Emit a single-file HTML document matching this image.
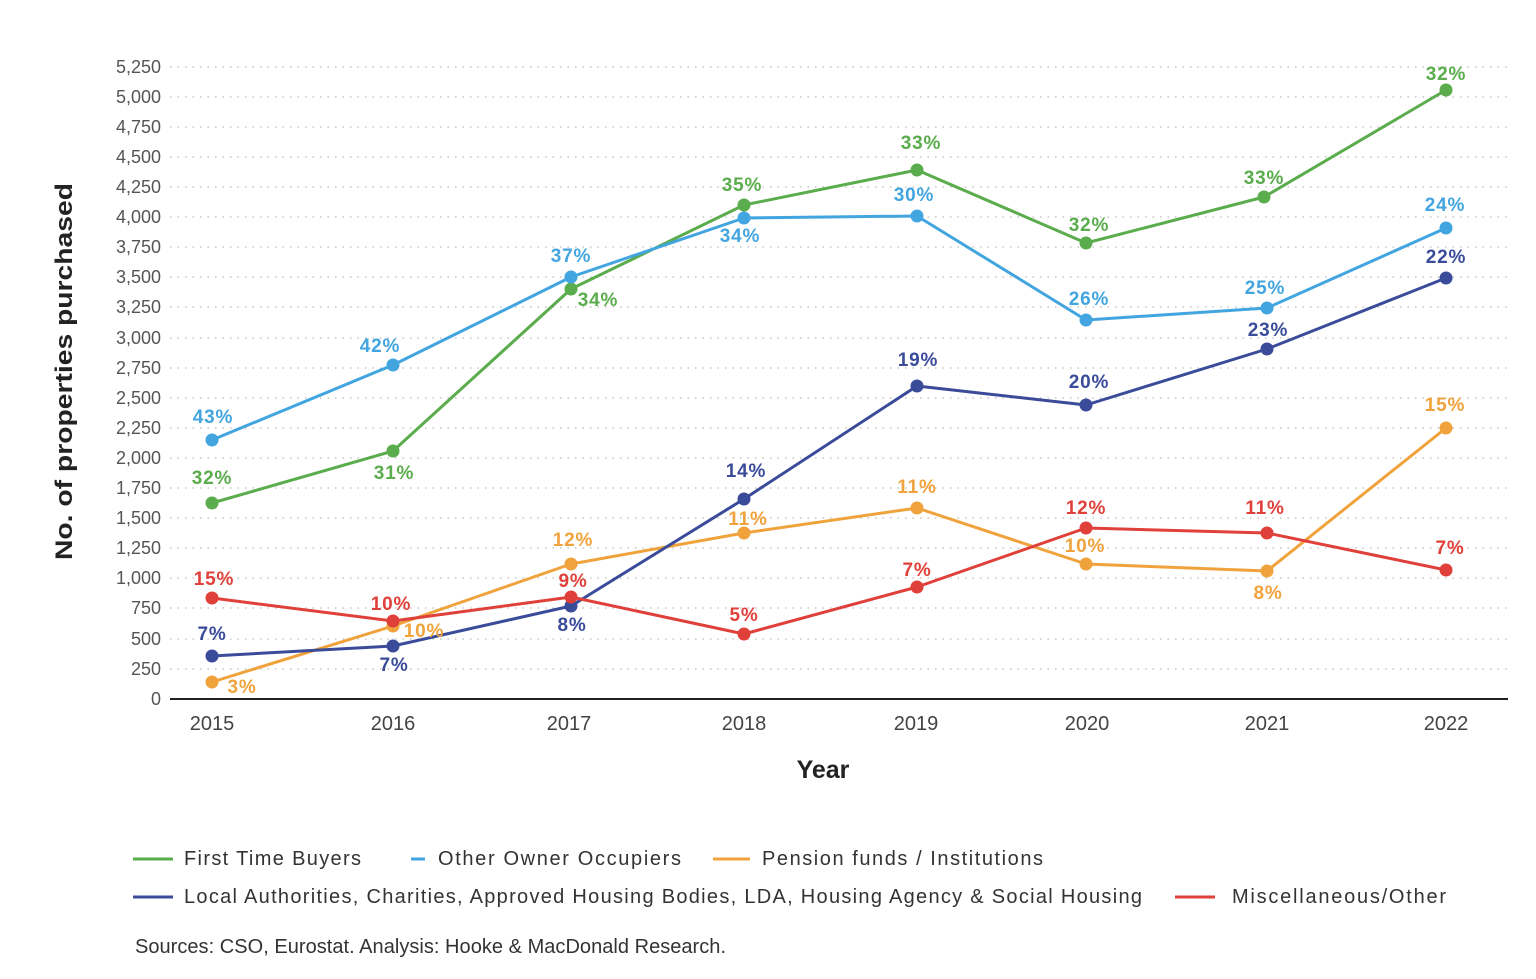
<!DOCTYPE html>
<html><head><meta charset="utf-8"><style>
body{margin:0;background:#fff;}
svg text{font-family:"Liberation Sans",sans-serif;}
</style></head><body>
<svg width="1536" height="974" viewBox="0 0 1536 974" xmlns="http://www.w3.org/2000/svg">
<g stroke="#bbb" stroke-width="1.2" stroke-dasharray="1.5 6">
<line x1="170" x2="1508" y1="67" y2="67"/><line x1="170" x2="1508" y1="97" y2="97"/><line x1="170" x2="1508" y1="127" y2="127"/><line x1="170" x2="1508" y1="157" y2="157"/><line x1="170" x2="1508" y1="187" y2="187"/><line x1="170" x2="1508" y1="217" y2="217"/><line x1="170" x2="1508" y1="247" y2="247"/><line x1="170" x2="1508" y1="277" y2="277"/><line x1="170" x2="1508" y1="307" y2="307"/><line x1="170" x2="1508" y1="338" y2="338"/><line x1="170" x2="1508" y1="368" y2="368"/><line x1="170" x2="1508" y1="398" y2="398"/><line x1="170" x2="1508" y1="428" y2="428"/><line x1="170" x2="1508" y1="458" y2="458"/><line x1="170" x2="1508" y1="488" y2="488"/><line x1="170" x2="1508" y1="518" y2="518"/><line x1="170" x2="1508" y1="548" y2="548"/><line x1="170" x2="1508" y1="578" y2="578"/><line x1="170" x2="1508" y1="608" y2="608"/><line x1="170" x2="1508" y1="639" y2="639"/><line x1="170" x2="1508" y1="669" y2="669"/>
</g>
<line x1="170" x2="1508" y1="699" y2="699" stroke="#222" stroke-width="2"/>
<g font-size="18" fill="#555" text-anchor="end">
<text x="161" y="73">5,250</text><text x="161" y="103">5,000</text><text x="161" y="133">4,750</text><text x="161" y="163">4,500</text><text x="161" y="193">4,250</text><text x="161" y="223">4,000</text><text x="161" y="253">3,750</text><text x="161" y="283">3,500</text><text x="161" y="313">3,250</text><text x="161" y="344">3,000</text><text x="161" y="374">2,750</text><text x="161" y="404">2,500</text><text x="161" y="434">2,250</text><text x="161" y="464">2,000</text><text x="161" y="494">1,750</text><text x="161" y="524">1,500</text><text x="161" y="554">1,250</text><text x="161" y="584">1,000</text><text x="161" y="614">750</text><text x="161" y="645">500</text><text x="161" y="675">250</text><text x="161" y="705">0</text>
</g>
<g font-size="20" fill="#444" text-anchor="middle">
<text x="212" y="730">2015</text><text x="393" y="730">2016</text><text x="569" y="730">2017</text><text x="744" y="730">2018</text><text x="916" y="730">2019</text><text x="1087" y="730">2020</text><text x="1267" y="730">2021</text><text x="1446" y="730">2022</text>
</g>
<text x="823" y="778" font-size="25" font-weight="bold" text-anchor="middle" fill="#222">Year</text>
<text transform="translate(72,560) rotate(-90)" font-size="24" font-weight="bold" fill="#222" textLength="377" lengthAdjust="spacingAndGlyphs">No. of properties purchased</text>
<g fill="none" stroke-width="3" stroke-linejoin="round">
<polyline stroke="#5aac4c" points="212,503 393,451 571,289 744,205 917,170 1086,243 1264,197 1446,90"/>
<polyline stroke="#42a5e0" points="212,440 393,365 571,277 744,218 917,216 1086,320 1267,308 1446,228"/>
<polyline stroke="#f0a33c" points="212,682 393,626 571,564 744,533 917,508 1086,564 1267,571 1446,428"/>
<polyline stroke="#3a4b9a" points="212,656 393,646 571,606 744,499 917,386 1086,405 1267,349 1446,278"/>
<polyline stroke="#e0403a" points="212,598 393,621 571,597 744,634 917,587 1086,528 1267,533 1446,570"/>
</g>
<g fill="#5aac4c"><circle cx="212" cy="503" r="6.5"/><circle cx="393" cy="451" r="6.5"/><circle cx="571" cy="289" r="6.5"/><circle cx="744" cy="205" r="6.5"/><circle cx="917" cy="170" r="6.5"/><circle cx="1086" cy="243" r="6.5"/><circle cx="1264" cy="197" r="6.5"/><circle cx="1446" cy="90" r="6.5"/></g>
<g fill="#42a5e0"><circle cx="212" cy="440" r="6.5"/><circle cx="393" cy="365" r="6.5"/><circle cx="571" cy="277" r="6.5"/><circle cx="744" cy="218" r="6.5"/><circle cx="917" cy="216" r="6.5"/><circle cx="1086" cy="320" r="6.5"/><circle cx="1267" cy="308" r="6.5"/><circle cx="1446" cy="228" r="6.5"/></g>
<g fill="#f0a33c"><circle cx="212" cy="682" r="6.5"/><circle cx="393" cy="626" r="6.5"/><circle cx="571" cy="564" r="6.5"/><circle cx="744" cy="533" r="6.5"/><circle cx="917" cy="508" r="6.5"/><circle cx="1086" cy="564" r="6.5"/><circle cx="1267" cy="571" r="6.5"/><circle cx="1446" cy="428" r="6.5"/></g>
<g fill="#3a4b9a"><circle cx="212" cy="656" r="6.5"/><circle cx="393" cy="646" r="6.5"/><circle cx="571" cy="606" r="6.5"/><circle cx="744" cy="499" r="6.5"/><circle cx="917" cy="386" r="6.5"/><circle cx="1086" cy="405" r="6.5"/><circle cx="1267" cy="349" r="6.5"/><circle cx="1446" cy="278" r="6.5"/></g>
<g fill="#e0403a"><circle cx="212" cy="598" r="6.5"/><circle cx="393" cy="621" r="6.5"/><circle cx="571" cy="597" r="6.5"/><circle cx="744" cy="634" r="6.5"/><circle cx="917" cy="587" r="6.5"/><circle cx="1086" cy="528" r="6.5"/><circle cx="1267" cy="533" r="6.5"/><circle cx="1446" cy="570" r="6.5"/></g>
<g font-size="19" font-weight="bold" text-anchor="middle" letter-spacing="0.8">
<g fill="#5aac4c"><text x="212" y="484">32%</text><text x="394" y="479">31%</text><text x="598" y="306">34%</text><text x="742" y="191">35%</text><text x="921" y="149">33%</text><text x="1089" y="231">32%</text><text x="1264" y="184">33%</text><text x="1446" y="80">32%</text></g>
<g fill="#42a5e0"><text x="213" y="423">43%</text><text x="380" y="352">42%</text><text x="571" y="262">37%</text><text x="740" y="242">34%</text><text x="914" y="201">30%</text><text x="1089" y="305">26%</text><text x="1265" y="294">25%</text><text x="1445" y="211">24%</text></g>
<g fill="#f0a33c"><text x="242" y="693">3%</text><text x="424" y="637">10%</text><text x="573" y="546">12%</text><text x="748" y="525">11%</text><text x="917" y="493">11%</text><text x="1085" y="552">10%</text><text x="1268" y="599">8%</text><text x="1445" y="411">15%</text></g>
<g fill="#3a4b9a"><text x="212" y="640">7%</text><text x="394" y="671">7%</text><text x="572" y="631">8%</text><text x="746" y="477">14%</text><text x="918" y="366">19%</text><text x="1089" y="388">20%</text><text x="1268" y="336">23%</text><text x="1446" y="263">22%</text></g>
<g fill="#e0403a"><text x="214" y="585">15%</text><text x="391" y="610">10%</text><text x="573" y="587">9%</text><text x="744" y="621">5%</text><text x="917" y="576">7%</text><text x="1086" y="514">12%</text><text x="1265" y="514">11%</text><text x="1450" y="554">7%</text></g>
</g>
<g stroke-width="3">
<line x1="133" x2="173" y1="859" y2="859" stroke="#5aac4c"/>
<line x1="411" x2="425" y1="859" y2="859" stroke="#42a5e0"/>
<line x1="713" x2="750" y1="859" y2="859" stroke="#f0a33c"/>
<line x1="133" x2="173" y1="897" y2="897" stroke="#3a4b9a"/>
<line x1="1175" x2="1215" y1="897" y2="897" stroke="#e0403a"/>
</g>
<g font-size="20" fill="#333">
<text x="184" y="865" textLength="177">First Time Buyers</text>
<text x="438" y="865" textLength="243">Other Owner Occupiers</text>
<text x="762" y="865" textLength="281">Pension funds / Institutions</text>
<text x="184" y="903" textLength="958">Local Authorities, Charities, Approved Housing Bodies, LDA, Housing Agency &amp; Social Housing</text>
<text x="1232" y="903" textLength="214">Miscellaneous/Other</text>
</g>
<text x="135" y="953" font-size="20" fill="#333" textLength="591">Sources: CSO, Eurostat. Analysis: Hooke &amp; MacDonald Research.</text>
</svg>
</body></html>
